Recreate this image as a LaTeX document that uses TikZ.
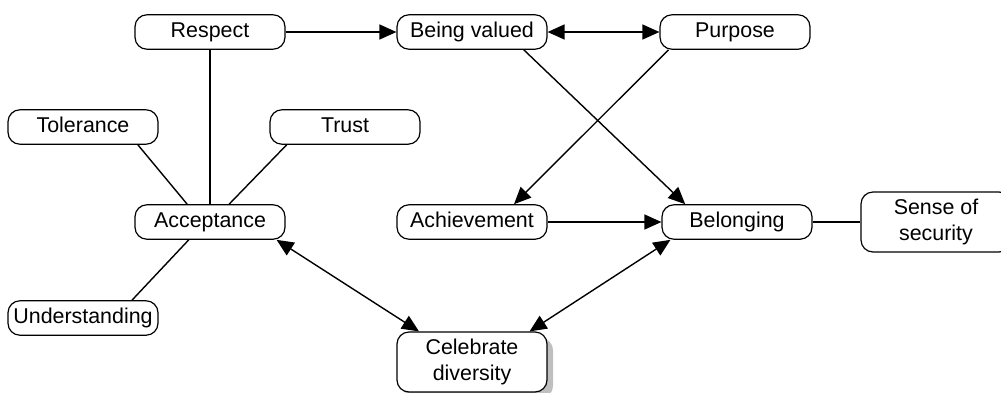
\documentclass[tikz,border=0pt]{standalone}
\usepackage{fontspec}
\setmainfont{Liberation Sans}
\usetikzlibrary{arrows.meta}
\usetikzlibrary{shadows}
\def\bw{75pt}
\def\bh{16.5pt}
\tikzset{
    box/.style = {
        draw, rectangle, rounded corners=6pt, minimum width=\bw,
        inner xsep=2pt, align=center, line width=0.6pt,
        font=\fontsize{10.7}{13}\selectfont
    },
    value/.style = {
        box, minimum height=\bh, text height=1.55ex, text depth=0.45ex
    },
    tallvalue/.style = {
        box, minimum height=30pt
    },
    link/.style = {
        line width=0.7pt
    },
}
\begin{document}
\begin{tikzpicture}[x=0.5pt, y=-0.5pt]
        \useasboundingbox (0,0) rectangle (1001,392);

        % Place the blocks
        \node[value] (respect) at (210,32) {Respect};
        \node[value] (valued) at (472,32) {Being valued};
        \node[value] (purpose) at (735,32) {Purpose};
        \node[value] (tolerance) at (83,127) {Tolerance};
        \node[value] (trust) at (345,127) {Trust};
        \node[value] (accept) at (210,222) {Acceptance};
        \node[value] (achieve) at (472,222) {Achievement};
        \node[value] (belong) at (737,222) {Belonging};
        \node[tallvalue] (security) at (936,222) {Sense of\\security};
        \node[value] (understand) at (83,318) {Understanding};
        \node[tallvalue, fill=white, drop shadow={shadow xshift=3pt, shadow yshift=-3pt, fill=black!25, opacity=1}] (celeb) at (472,362) {Celebrate\\diversity};

        % Draw connections
        \begin{scope}[link, >={Triangle[length=8.5pt,width=7.5pt]}]
            \draw[->] (respect.east) -- (valued.west);
            \draw[<->] (valued.east) -- (purpose.west);
            \draw (respect.south) -- (accept.north);
            \draw (tolerance.-18) -- (accept.142);
            \draw (trust.-163) -- (accept.43);
            \draw (understand.20) -- (accept.220);
            \draw[<->] (accept.-15) -- (celeb.150);
            \draw[<->] (belong.195) -- (celeb.28);
            \draw[->] (valued.-19) -- (belong.161);
            \draw[->] (purpose.195) -- (achieve.23);
            \draw[->] (achieve.east) -- (belong.west);
            \draw (belong.east) -- (security.west);
        \end{scope}
    \end{tikzpicture}
\end{document}
